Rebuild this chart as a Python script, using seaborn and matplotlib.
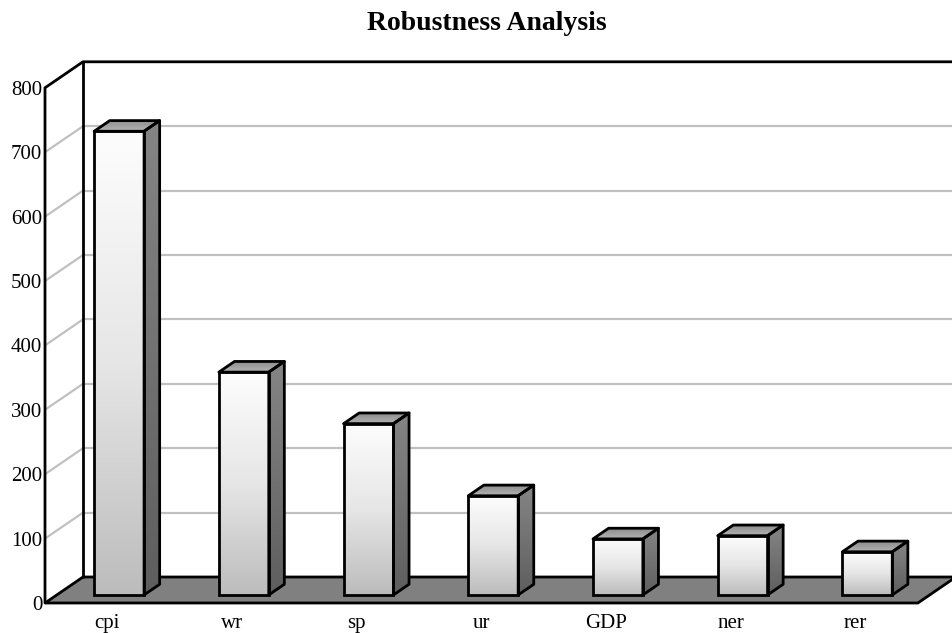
import numpy as np
import matplotlib
matplotlib.use("Agg")
import matplotlib.pyplot as plt
import seaborn as sns
from matplotlib.patches import Polygon
from matplotlib.colors import LinearSegmentedColormap

categories = ["cpi", "wr", "sp", "ur", "GDP", "ner", "rer"]
values = [720, 346, 266, 154, 87, 92, 67]
y_ticks = [0, 100, 200, 300, 400, 500, 600, 700, 800]
title = "Robustness Analysis"

sns.set_theme(style="white")
plt.rcParams["font.family"] = ["Liberation Serif", "DejaVu Serif"]
plt.rcParams["text.color"] = "black"

W, H = 952, 633
fig = plt.figure(figsize=(W / 100, H / 100), dpi=100)
fig.patch.set_facecolor("white")

# pixel scale of the plot area
PX_X = 124.7   # pixels per category slot
PX_V = 0.644   # pixels per unit of value
left_px, floor_px, top_px = 45, 603, 55
ax = fig.add_axes([left_px / W, (H - floor_px) / H,
                   (W - left_px) / W, (floor_px - top_px) / H])

# oblique depth vector of the 3-D box, in data units
DX = 38 / PX_X
DY = 26 / PX_V
F1, F2 = 0.31, 0.72      # front / back depth of the bars
BAR_W = 0.4
LW = 2.0
ymax = y_ticks[-1]
n = len(categories)

# front faces of the columns
sns.barplot(x=categories, y=values, width=BAR_W, ax=ax,
            facecolor="none", edgecolor="black", linewidth=LW, zorder=8)

XMIN, XMAX = -0.5, -0.5 + (W - left_px) / PX_X
YMAX = (floor_px - top_px) / PX_V

front_cmap = LinearSegmentedColormap.from_list("front", ["#bcbcbc", "#e6e6e6", "#fdfdfd"])
top_cmap = LinearSegmentedColormap.from_list("top", ["#b4b4b4", "#8c8c8c"])
side_cmap = LinearSegmentedColormap.from_list("side", ["#5e5e5e", "#858585"])
grad = np.linspace(0, 1, 256).reshape(-1, 1)


def shade(patch, cmap, z):
    if isinstance(patch, Polygon):
        xy = patch.get_xy()
        x0, x1 = xy[:, 0].min(), xy[:, 0].max()
        y0, y1 = xy[:, 1].min(), xy[:, 1].max()
    else:
        x0, y0 = patch.get_x(), patch.get_y()
        x1, y1 = x0 + patch.get_width(), y0 + patch.get_height()
    im = ax.imshow(grad, cmap=cmap, extent=(x0, x1, y0, y1), origin="lower",
                   aspect="auto", interpolation="bilinear", zorder=z)
    im.set_clip_path(patch)


bars = list(ax.patches)
for bar, v in zip(bars, values):
    bar.set_x(bar.get_x() + F1 * DX)
    bar.set_y(F1 * DY)
    x0 = bar.get_x()
    x1 = x0 + bar.get_width()
    yb = F1 * DY
    yt = yb + v
    ddx, ddy = (F2 - F1) * DX, (F2 - F1) * DY
    side = Polygon([(x1, yb), (x1 + ddx, yb + ddy), (x1 + ddx, yt + ddy), (x1, yt)],
                   closed=True, facecolor="none", edgecolor="black",
                   linewidth=LW, joinstyle="round", zorder=7)
    top = Polygon([(x0, yt), (x1, yt), (x1 + ddx, yt + ddy), (x0 + ddx, yt + ddy)],
                  closed=True, facecolor="none", edgecolor="black",
                  linewidth=LW, joinstyle="round", zorder=7)
    ax.add_patch(side)
    ax.add_patch(top)
    shade(side, side_cmap, 6)
    shade(top, top_cmap, 6)
    shade(bar, front_cmap, 6)

# gridlines on the side and back walls
for v in y_ticks[1:-1]:
    ax.plot([XMIN, XMIN + DX], [v, v + DY], color="#c0c0c0", lw=1.6, zorder=1)
    ax.plot([XMIN + DX, XMAX + 1], [v + DY, v + DY], color="#c0c0c0", lw=1.6, zorder=1)

# floor
floor = Polygon([(XMIN, 0), (n - 0.5, 0), (n - 0.5 + DX, DY), (XMIN + DX, DY)],
                closed=True, facecolor="#808080", edgecolor="black",
                linewidth=LW, zorder=3, clip_on=False)
ax.add_patch(floor)

# wall outlines
ax.plot([XMIN, XMIN, XMIN + DX, XMAX + 1], [0, ymax, ymax + DY, ymax + DY],
        color="black", lw=LW, zorder=4, solid_joinstyle="round", clip_on=False)
ax.plot([XMIN + DX, XMIN + DX], [DY, ymax + DY], color="black", lw=LW, zorder=4)

ax.set_xlim(XMIN, XMAX)
ax.set_ylim(0, YMAX)
ax.set_autoscale_on(False)

ax.set_xticks(range(n))
ax.set_xticklabels(categories)
ax.set_yticks(y_ticks)
ax.set_yticklabels([str(t) for t in y_ticks])
ax.tick_params(axis="both", length=0, labelsize=15, colors="black")
ax.tick_params(axis="y", pad=2)
ax.tick_params(axis="x", pad=8)
ax.set_xlabel("")
ax.set_ylabel("")
for s in ax.spines.values():
    s.set_visible(False)
ax.set_facecolor("white")
ax.grid(False)

fig.text(487 / W, 1 - 24 / H, title, fontsize=20, fontweight="bold",
         color="black", ha="center", va="center")

fig.savefig("out.png", dpi=100, facecolor="white")
